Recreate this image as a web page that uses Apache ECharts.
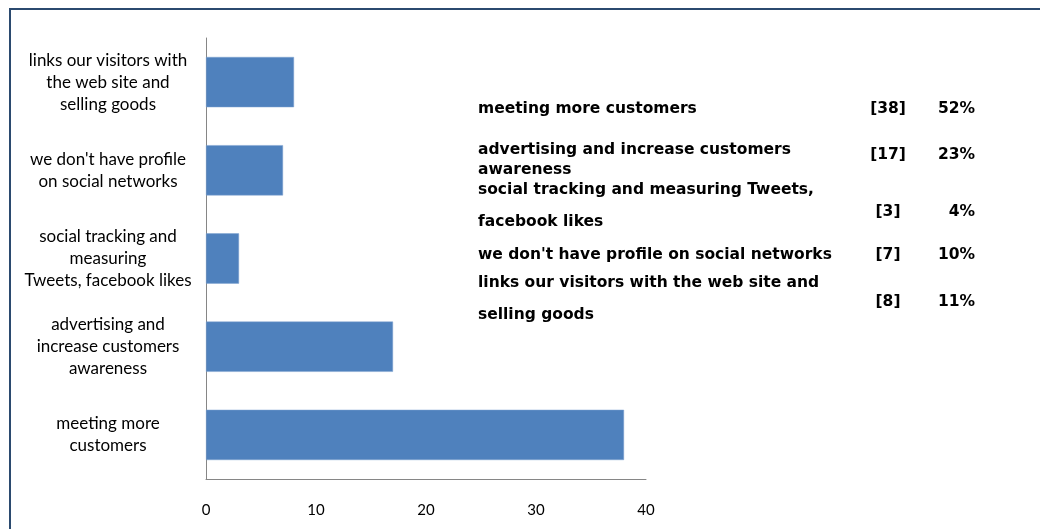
<!DOCTYPE html>
<html>
<head>
<meta charset="utf-8">
<script src="https://cdn.jsdelivr.net/npm/echarts@6/dist/echarts.min.js"></script>
<style>
  html, body { margin: 0; padding: 0; background: #ffffff; }
  #chart { width: 1040px; height: 529px; }
</style>
</head>
<body>
<div id="chart"></div>
<script>
// Survey answers, bottom category first (ECharts category axes grow upward)
const categories = [
  'meeting more\ncustomers',
  'advertising and\nincrease customers\nawareness',
  'social tracking and\nmeasuring\nTweets, facebook likes',
  "we don't have profile\non social networks",
  'links our visitors with\nthe web site and\nselling goods'
];
const responses = [38, 17, 3, 7, 8];

// Wording used in the summary table on the right
const summaryLabels = [
  'meeting more customers',
  'advertising and increase customers\nawareness',
  'social tracking and measuring Tweets,\nfacebook likes',
  "we don't have profile on social networks",
  'links our visitors with the web site and\nselling goods'
];

const xTicks = [0, 10, 20, 30, 40];

// Summary table layout: baseline rows for the label lines and the count column
const lineRows = [[109], [150, 170], [190, 222], [255], [283, 315]];
const countRows = [109, 155, 212, 255, 302];

const total = responses.reduce((a, b) => a + b, 0);
const summaryFont = 'bold 15.5px "DejaVu Sans", sans-serif';

const graphics = [{
  type: 'rect',
  shape: { x: 10, y: 9, width: 1100, height: 600 },
  style: { fill: 'none', stroke: '#2b4a6f', lineWidth: 2 },
  silent: true
}];

summaryLabels.forEach((label, i) => {
  label.split('\n').forEach((line, j) => {
    graphics.push({
      type: 'text',
      x: 478, y: lineRows[i][j],
      style: { text: line, font: summaryFont, fill: '#000', align: 'left', verticalAlign: 'middle' }
    });
  });
  graphics.push({
    type: 'text',
    x: 888, y: countRows[i],
    style: { text: '[' + responses[i] + ']', font: summaryFont, fill: '#000', align: 'center', verticalAlign: 'middle' }
  });
  graphics.push({
    type: 'text',
    x: 975, y: countRows[i],
    style: { text: Math.round(responses[i] / total * 100) + '%', font: summaryFont, fill: '#000', align: 'right', verticalAlign: 'middle' }
  });
});

const chart = echarts.init(document.getElementById('chart'));
chart.setOption({
  animation: false,
  backgroundColor: '#ffffff',
  grid: { left: 206, top: 38, right: 394, bottom: 50, containLabel: false },
  xAxis: {
    type: 'value',
    min: xTicks[0],
    max: xTicks[xTicks.length - 1],
    interval: xTicks[1] - xTicks[0],
    axisLine: { show: true, lineStyle: { color: '#868686', width: 1 } },
    axisTick: { show: false },
    splitLine: { show: false },
    axisLabel: {
      margin: 24,
      color: '#000',
      fontFamily: 'Lato, "Open Sans", sans-serif',
      fontSize: 15,
      formatter: v => xTicks.includes(v) ? String(v) : ''
    }
  },
  yAxis: {
    type: 'category',
    data: categories,
    axisLine: { show: true, lineStyle: { color: '#868686', width: 1 } },
    axisTick: { show: false },
    splitLine: { show: false },
    axisLabel: {
      align: 'center',
      margin: 98,
      color: '#000',
      fontFamily: 'Lato, "Open Sans", sans-serif',
      fontSize: 17,
      lineHeight: 22
    }
  },
  series: [{
    type: 'bar',
    data: responses,
    barCategoryGap: '43%',
    itemStyle: { color: '#4f81bd', borderColor: '#7ea3d1', borderWidth: 0.5 }
  }],
  graphic: graphics
});
</script>
</body>
</html>
